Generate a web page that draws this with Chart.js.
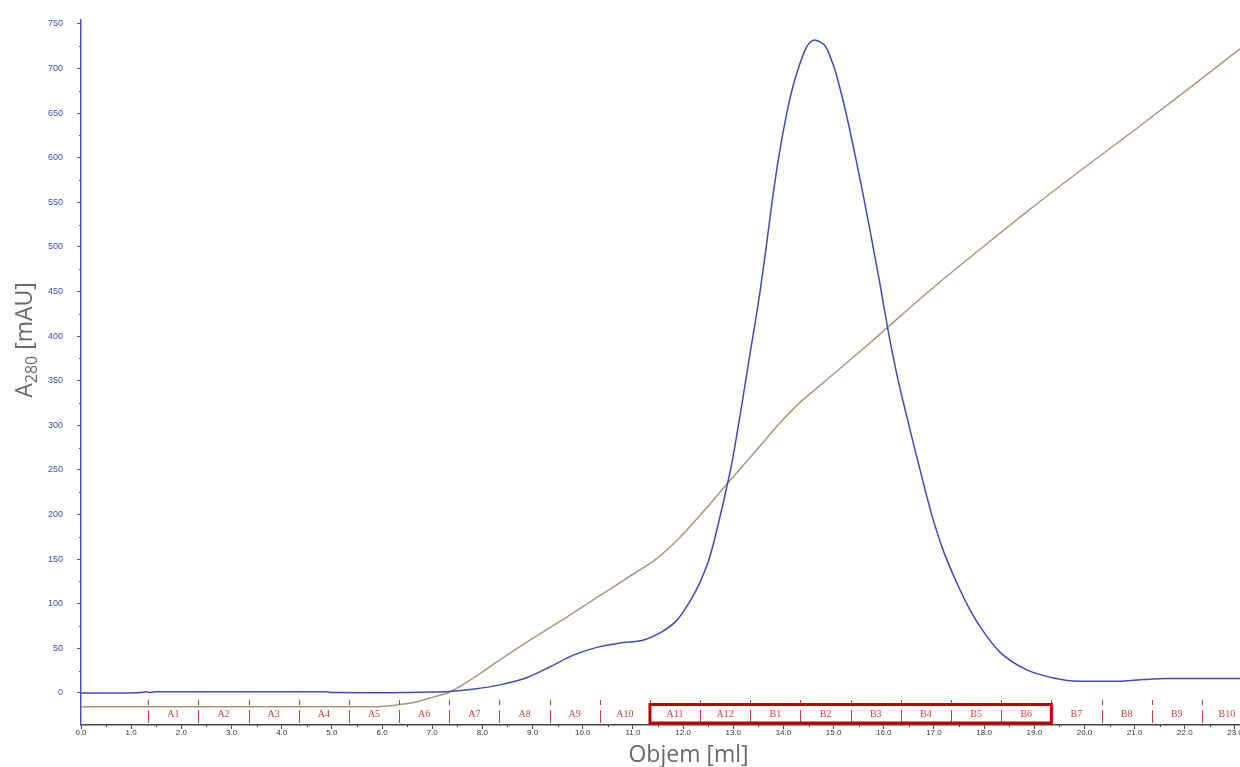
<!DOCTYPE html>
<html>
<head>
<meta charset="utf-8">
<script src="https://cdn.jsdelivr.net/npm/chart.js@4.4.1/dist/chart.umd.min.js"></script>
<style>
html, body { margin: 0; padding: 0; background: #fff; }
#wrap { width: 1240px; height: 767px; }
</style>
</head>
<body>
<div id="wrap"><canvas id="chromChart"></canvas></div>
<script>
// UV absorbance trace (A280, mAU) vs elution volume (ml)
const uvVolume = [0, 1.0, 1.2, 1.3, 1.35, 1.4, 1.5, 2.0, 3.0, 4.0, 4.9, 5.0, 6.0, 6.5, 7.0, 7.35, 7.8,
    8.35, 8.88, 9.34, 9.8, 10.28, 10.74, 11.2, 11.53, 11.87, 12.13, 12.33, 12.53, 12.73, 12.86, 12.99,
    13.19, 13.33, 13.51, 13.65, 13.78, 13.91, 14.06, 14.19, 14.32, 14.46, 14.62, 14.72, 14.85, 14.98,
    15.05, 15.26, 15.42, 15.58, 15.76, 15.92, 16.08, 16.18, 16.3, 16.45, 16.58, 16.71, 16.85, 16.97,
    17.17, 17.45, 17.71, 17.97, 18.31, 18.84, 19.36, 19.9, 20.64, 21.2, 21.63, 22.95, 23.1];
const uvAbsorbance = [0, 0, 0.3, 1.2, 0.4, 0.6, 1.2, 1.2, 1.2, 1.2, 1.2, 0.3, 0.2, 0.5, 1, 1.5, 4,
    9, 17, 29, 42, 51, 56, 59, 67, 81, 102, 123, 152, 196, 228, 263,
    330, 379, 441, 497, 553, 602, 648, 680, 704, 724, 732, 730, 724, 706,
    694, 647, 605, 561, 508, 460, 408, 379, 347, 312, 282, 253, 222, 197,
    162, 124, 94, 70, 46, 26, 17, 13, 13, 15, 16, 16, 16];

// second trace (brown)
const condVolume = [0, 5.9, 6.3, 6.7, 7.0, 7.35, 7.69, 8.35, 9.0, 9.68, 10.34, 11.0, 11.46, 11.93,
    12.4, 12.87, 13.4, 13.92, 14.3, 14.78, 15.78, 16.06, 17.0, 18.0, 19.0, 20.0, 21.0, 22.0, 23.1];
const condValue = [-15.5, -15.5, -13.5, -10, -5, 1, 12, 37, 61, 85, 109, 133, 150, 174,
    203, 234, 268, 302, 324, 347, 395, 409, 455, 501, 546, 589, 631, 674, 722];

// collected fractions
const fractionNames = ['A1', 'A2', 'A3', 'A4', 'A5', 'A6', 'A7', 'A8', 'A9', 'A10', 'A11', 'A12',
    'B1', 'B2', 'B3', 'B4', 'B5', 'B6', 'B7', 'B8', 'B9', 'B10'];
const fractionStart = [1.34, 2.34, 3.34, 4.34, 5.34, 6.34, 7.34, 8.34, 9.34, 10.34, 11.34, 12.34,
    13.34, 14.34, 15.34, 16.34, 17.34, 18.34, 19.34, 20.34, 21.34, 22.34];
const fractionWidth = 1.0;
const pooledFrom = 'A11';
const pooledTo = 'B6';

// axis ticks
const xTicks = [0, 1, 2, 3, 4, 5, 6, 7, 8, 9, 10, 11, 12, 13, 14, 15, 16, 17, 18, 19, 20, 21, 22, 23];
const yTicks = [0, 50, 100, 150, 200, 250, 300, 350, 400, 450, 500, 550, 600, 650, 700, 750];

const xTitle = 'Objem [ml]';

const decorPlugin = {
    id: 'decor',
    afterDatasetsDraw(chart) {
        const { ctx, chartArea, scales: { x, y } } = chart;
        const bottom = chartArea.bottom;
        ctx.save();

        // minor ticks
        ctx.lineWidth = 1;
        ctx.strokeStyle = '#5050c0';
        for (let i = 0; i < yTicks.length - 1; i++) {
            const py = Math.round(y.getPixelForValue((yTicks[i] + yTicks[i + 1]) / 2)) + 0.5;
            ctx.beginPath();
            ctx.moveTo(chartArea.left - 2, py);
            ctx.lineTo(chartArea.left, py);
            ctx.stroke();
        }
        ctx.strokeStyle = '#444';
        for (let i = 0; i < xTicks.length; i++) {
            const px = Math.round(x.getPixelForValue(xTicks[i] + 0.5)) + 0.5;
            if (px > chartArea.right) continue;
            ctx.beginPath();
            ctx.moveTo(px, bottom);
            ctx.lineTo(px, bottom + 2);
            ctx.stroke();
        }

        // fraction marks
        ctx.strokeStyle = '#d03c3c';
        ctx.lineWidth = 1;
        fractionStart.forEach(v => {
            const px = Math.round(x.getPixelForValue(v)) + 0.5;
            ctx.beginPath();
            ctx.moveTo(px, bottom - 25);
            ctx.lineTo(px, bottom - 20);
            ctx.moveTo(px, bottom - 15);
            ctx.lineTo(px, bottom - 2);
            ctx.stroke();
        });
        ctx.fillStyle = '#c84646';
        ctx.font = '10px "Liberation Serif", "DejaVu Serif", serif';
        ctx.textAlign = 'center';
        ctx.textBaseline = 'middle';
        fractionNames.forEach((name, i) => {
            const cx = x.getPixelForValue(fractionStart[i] + fractionWidth / 2);
            if (cx < chartArea.right) ctx.fillText(name, cx, bottom - 11);
        });

        // pooled fractions box
        const i0 = fractionNames.indexOf(pooledFrom);
        const i1 = fractionNames.indexOf(pooledTo);
        const bx0 = x.getPixelForValue(fractionStart[i0]);
        const bx1 = x.getPixelForValue(fractionStart[i1] + fractionWidth);
        ctx.strokeStyle = '#c00000';
        ctx.lineWidth = 3;
        ctx.strokeRect(bx0, bottom - 20.5, bx1 - bx0, 18.5);

        ctx.restore();
    },
    afterDraw(chart) {
        const { ctx, chartArea } = chart;
        ctx.save();
        ctx.fillStyle = '#6a6a6a';
        ctx.textBaseline = 'alphabetic';

        // x title
        ctx.font = '23px "Open Sans", "Noto Sans", sans-serif';
        ctx.textAlign = 'center';
        ctx.fillText(xTitle, (chartArea.left + chartArea.right) / 2 + 28, 762);

        // y title with subscript
        const big = '23px "Open Sans", "Noto Sans", sans-serif';
        const small = '16px "Open Sans", "Noto Sans", sans-serif';
        ctx.font = big;
        const wA = ctx.measureText('A').width;
        const wRest = ctx.measureText(' [mAU]').width;
        ctx.font = small;
        const wSub = ctx.measureText('280').width;
        const total = wA + wSub + wRest;
        ctx.translate(32, 340);
        ctx.rotate(-Math.PI / 2);
        ctx.textAlign = 'left';
        let cx = -total / 2;
        ctx.font = big;
        ctx.fillText('A', cx, 0);
        cx += wA;
        ctx.font = small;
        ctx.fillText('280', cx, 5);
        cx += wSub;
        ctx.font = big;
        ctx.fillText(' [mAU]', cx, 0);
        ctx.restore();
    }
};

const ctx = document.getElementById('chromChart').getContext('2d');
const chromChart = new Chart(ctx, {
    type: 'line',
    data: {
        datasets: [
            {
                label: 'A280',
                data: uvVolume.map((v, i) => ({ x: v, y: uvAbsorbance[i] })),
                borderColor: '#4646c0',
                borderWidth: 1.5,
                pointRadius: 0,
                cubicInterpolationMode: 'monotone',
                fill: false
            },
            {
                label: 'Cond',
                data: condVolume.map((v, i) => ({ x: v, y: condValue[i] })),
                borderColor: '#a8987c',
                borderWidth: 1.5,
                pointRadius: 0,
                cubicInterpolationMode: 'monotone',
                fill: false
            }
        ]
    },
    options: {
        responsive: true,
        maintainAspectRatio: false,
        animation: false,
        layout: { padding: { top: 15, left: 0, right: 0, bottom: 0 } },
        plugins: {
            legend: { display: false },
            tooltip: { enabled: false }
        },
        scales: {
            x: {
                type: 'linear',
                min: 0,
                max: 23.1,
                afterBuildTicks: s => { s.ticks = xTicks.map(v => ({ value: v })); },
                afterFit: s => { s.paddingLeft = 0; s.paddingRight = 0; s.height = 42; },
                grid: { drawOnChartArea: false, tickLength: 4, color: '#444' },
                border: { color: '#444', width: 1.5 },
                ticks: {
                    color: '#333',
                    font: { size: 8, family: '"Liberation Sans", Arial, sans-serif' },
                    padding: -1,
                    maxRotation: 0,
                    autoSkip: false,
                    callback: v => v.toFixed(1)
                }
            },
            y: {
                min: -36,
                max: 755,
                afterBuildTicks: s => { s.ticks = yTicks.map(v => ({ value: v })); },
                afterFit: s => { s.width = 81; },
                grid: { drawOnChartArea: false, tickLength: 4, color: '#5050c0' },
                border: { color: '#5050c0', width: 1.5 },
                ticks: {
                    color: '#4848b8',
                    font: { size: 9, family: '"Liberation Sans", Arial, sans-serif' },
                    padding: 14,
                    autoSkip: false,
                    callback: v => String(v)
                }
            }
        }
    },
    plugins: [decorPlugin]
});
</script>
</body>
</html>
